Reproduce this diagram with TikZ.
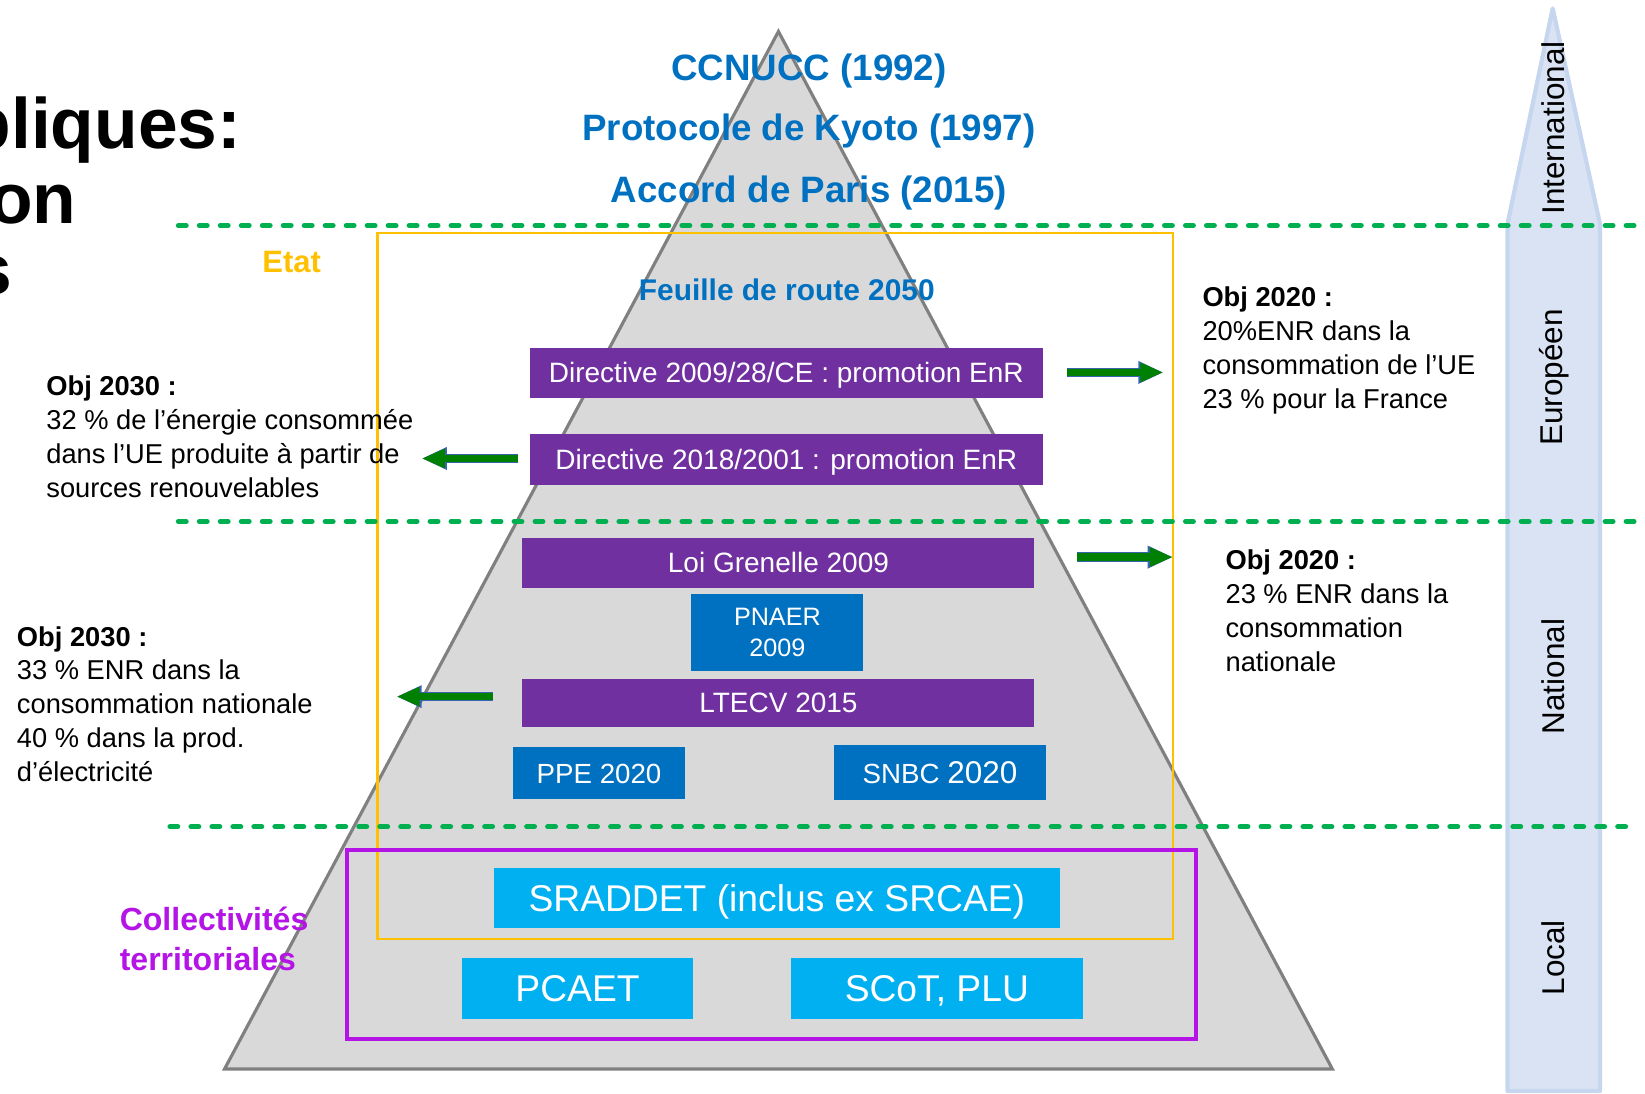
\documentclass[tikz,border=0pt]{standalone}
\usepackage{fontspec}
\setmainfont{Liberation Sans}
\usetikzlibrary{arrows.meta}
\definecolor{pyrgray}{HTML}{D9D9D9}
\definecolor{pyredge}{HTML}{808080}
\definecolor{titleblue}{HTML}{0070C0}
\definecolor{lawpurple}{HTML}{7030A0}
\definecolor{planblue}{HTML}{0070C0}
\definecolor{localcyan}{HTML}{00B0F0}
\definecolor{etatorange}{HTML}{FFC000}
\definecolor{collviolet}{HTML}{B414E6}
\definecolor{dashgreen}{HTML}{00B050}
\definecolor{arrowgreen}{HTML}{008000}
\definecolor{arrowblue}{HTML}{3A64B0}
\definecolor{scalefill}{HTML}{DAE3F3}
\definecolor{scaleedge}{HTML}{C6D6EF}
\begin{document}
\begin{tikzpicture}[x=1pt,y=-1pt,
  fbox/.style={inner sep=0pt, text=white, text depth=0pt},
  lawbox/.style={fbox, fill=lawpurple, text height=19.1pt, font=\fontsize{26.7}{30}\selectfont},
  planbox/.style={fbox, fill=planblue, text height=18.9pt, font=\fontsize{26.4}{30}\selectfont},
  localbox/.style={fbox, fill=localcyan, text height=25.4pt, font=\fontsize{35.5}{40}\selectfont},
  toptitle/.style={anchor=base, inner sep=0pt, text=titleblue, font=\fontsize{35}{40}\selectfont\bfseries},
  objtext/.style={anchor=base west, align=left, inner sep=0pt, font=\fontsize{26}{32.3}\selectfont},
  scalelabel/.style={rotate=90, inner sep=0pt, font=\fontsize{30}{36}\selectfont},
  bigtitle/.style={anchor=base east, inner sep=0pt, font=\fontsize{68}{72}\selectfont\bfseries},
  dashline/.style={draw=dashgreen, line width=4.8pt, line cap=round, dash pattern=on 7.5pt off 12.5pt},
  garrow/.style={draw=arrowgreen, line width=7pt, -{Triangle[length=22pt,width=17pt]},
    preaction={draw=arrowblue, line width=9pt, -{Triangle[length=24pt,width=20pt]}}}
]
\useasboundingbox (0,0) rectangle (1568,1042);

% pyramid
\coordinate (apex) at (742,30);
\coordinate (bl) at (214,1019);
\coordinate (br) at (1270,1019);
\draw[fill=pyrgray, draw=pyredge, line width=3pt, line join=miter] (apex) -- (bl) -- (br) -- cycle;

% scale arrow on the right
\coordinate (s1) at (1437,1040);
\coordinate (s2) at (1437,213);
\coordinate (s3) at (1480,8);
\coordinate (s4) at (1525,213);
\coordinate (s5) at (1525,1040);
\draw[fill=scalefill, draw=scaleedge, line width=4pt, line join=round] (s1) -- (s2) -- (s3) -- (s4) -- (s5) -- cycle;

% boxes
\node[lawbox, minimum width=489pt, minimum height=47pt] (d1) at (749.5,355.5) {Directive 2009/28/CE : promotion EnR};
\node[lawbox, minimum width=489pt, minimum height=48pt] (d2) at (749.5,438) {Directive 2018/2001 : promotion EnR};
\node[lawbox, minimum width=488pt, minimum height=47pt] (loi) at (742,536.5) {Loi Grenelle 2009};
\node[fill=planblue, text=white, inner sep=0pt, align=center, minimum width=164pt, minimum height=74pt,
      font=\fontsize{24}{30}\selectfont] (pnaer) at (741,603) {PNAER\\2009};
\node[lawbox, minimum width=488pt, minimum height=46pt] (ltecv) at (742,670) {LTECV 2015};
\node[planbox, minimum width=164pt, minimum height=50pt] (ppe) at (571,737) {PPE 2020};
\node[planbox, text height=21.5pt, minimum width=202pt, minimum height=53pt] (snbc) at (896,736.5) {SNBC {\fontsize{30}{34}\selectfont 2020}};
\node[localbox, minimum width=539pt, minimum height=58pt] (sraddet) at (740.5,856) {SRADDET (inclus ex SRCAE)};
\node[localbox, minimum width=221pt, minimum height=58pt] (pcaet) at (550.5,942) {PCAET};
\node[localbox, minimum width=278pt, minimum height=58pt] (scot) at (893,942) {SCoT, PLU};

% frames
\draw[draw=etatorange, line width=2.5pt] (360,222) rectangle (1118,895);
\draw[draw=collviolet, line width=4pt] (331,810) rectangle (1140,990);

% dashed level separators
\coordinate (dl1a) at (170,215); \coordinate (dl1b) at (1565,215);
\coordinate (dl2a) at (170,497); \coordinate (dl2b) at (1565,497);
\coordinate (dl3a) at (162,788); \coordinate (dl3b) at (1555,788);
\draw[dashline] (dl1a) -- (dl1b);
\draw[dashline] (dl2a) -- (dl2b);
\draw[dashline] (dl3a) -- (dl3b);

% big cut title
\node[bigtitle] (t1) at (230,142) {bliques:};
\node[bigtitle] (t2) at (73,213) {on};
\node[bigtitle] (t3) at (11.5,281) {s};

% top titles
\node[toptitle] (ccnucc) at (771,77) {CCNUCC (1992)};
\node[toptitle] (kyoto) at (771,134) {Protocole de Kyoto (1997)};
\node[toptitle] (paris) at (771,193) {Accord de Paris (2015)};
\node[anchor=base, inner sep=0pt, text=titleblue, font=\fontsize{28.5}{32}\selectfont\bfseries] (feuille) at (750,286) {Feuille de route 2050};

% labels
\node[anchor=base west, inner sep=0pt, text=etatorange, font=\fontsize{29.5}{34}\selectfont\bfseries] (etat) at (250,260) {Etat};
\node[anchor=base west, align=left, inner sep=0pt, text=collviolet, font=\fontsize{30.5}{38}\selectfont\bfseries] (coll) at (114,925) {Collectivités\\territoriales};

% objectives (anchor at baseline of last line)
\node[objtext] (objA) at (44,474) {\textbf{Obj 2030 :}\\32 \% de l'énergie consommée\\dans l’UE produite à partir de\\sources renouvelables};
\node[objtext] (objB) at (16,745) {\textbf{Obj 2030 :}\\33 \% ENR dans la\\consommation nationale\\40 \% dans la prod.\\d'électricité};
\node[objtext] (objC) at (1146,389) {\textbf{Obj 2020 :}\\20\%ENR dans la\\consommation de l’UE\\23 \% pour la France};
\node[objtext] (objD) at (1168,640) {\textbf{Obj 2020 :}\\23 \% ENR dans la\\consommation\\nationale};

% scale labels
\node[scalelabel] (intl) at (1481,122) {International};
\node[scalelabel] (euro) at (1481,360) {Européen};
\node[scalelabel] (nat) at (1481,645) {National};
\node[scalelabel] (loc) at (1481,913) {Local};

% green arrows
\coordinate (a1s) at (1017,355); \coordinate (a1e) at (1109,355);
\coordinate (a2s) at (494,437);  \coordinate (a2e) at (402,437);
\coordinate (a3s) at (1027,531); \coordinate (a3e) at (1118,531);
\coordinate (a4s) at (470,664);  \coordinate (a4e) at (378,664);
\draw[garrow] (a1s) -- (a1e);
\draw[garrow] (a2s) -- (a2e);
\draw[garrow] (a3s) -- (a3e);
\draw[garrow] (a4s) -- (a4e);
\end{tikzpicture}
\end{document}
